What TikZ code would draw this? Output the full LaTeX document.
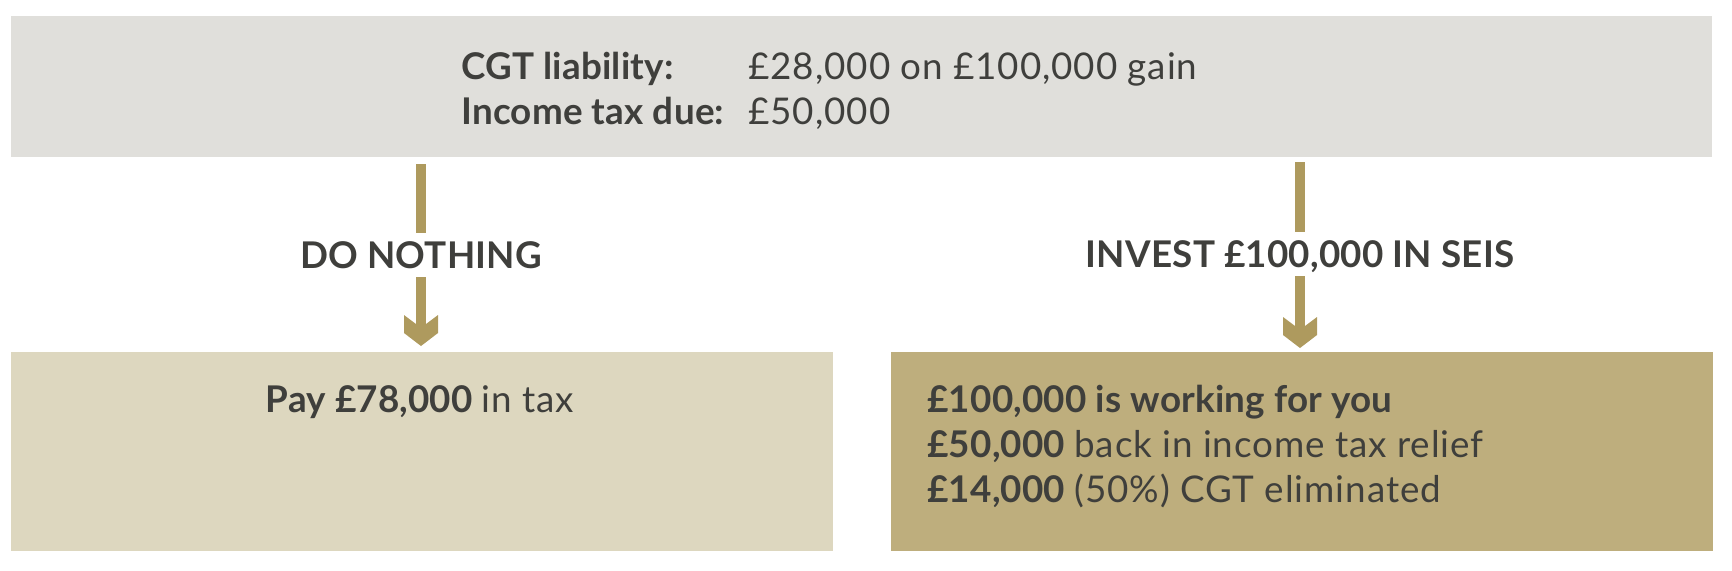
\documentclass[tikz,border=0pt]{standalone}
\usepackage{fontspec}
\setmainfont{Lato}[LetterSpace=2.5, BoldFeatures={LetterSpace=0.5}]
\usetikzlibrary{positioning}
\definecolor{greybox}{HTML}{E0DFDB}
\definecolor{sandbox}{HTML}{DDD7BF}
\definecolor{goldbox}{HTML}{BEAE7D}
\definecolor{goldarrow}{HTML}{AE9A5E}
\definecolor{inkgrey}{HTML}{3F3F3C}
\tikzset{%
	panel/.style={rectangle, inner sep=0mm, anchor=south west, minimum height=99.5pt, minimum width=411pt},
	txt/.style={inner sep=0mm, anchor=base west, text=inkgrey, font=\fontsize{18.4}{22}\selectfont},
	choice/.style={inner sep=0mm, anchor=base, text=inkgrey, font=\fontsize{18.4}{22}\selectfont\bfseries,%
		text height=17.5pt, text depth=4.5pt},
	shaft/.style={draw=goldarrow, line width=5pt, shorten >=10.5pt}
}
\newcommand{\chevron}[1]{\fill[goldarrow] (#1) -- ++(17,13) -- ++(0,18) -- ++(-12,-9) -- ++(-10,0) -- ++(-12,9) -- ++(0,-18) -- cycle;}

\begin{document}
\begin{tikzpicture}[x=0.5pt, y=0.5pt]
	\useasboundingbox (0,0) rectangle (1732,570);

	\node[panel, fill=greybox, minimum width=850.5pt, minimum height=70.5pt] (facts) at (11,413) {};
	\node[panel, fill=sandbox] (nothing) at (11,19) {};
	\node[panel, fill=goldbox] (seis) at (891,19) {};

	\node[txt] (cgt) at (461,491) {\bfseries CGT liability:};
	\node[txt] (inc) at (461,446) {\bfseries Income tax due:};
	\node[txt] (cgtv) at (748,491) {£28,000 on £100,000 gain};
	\node[txt] (incv) at (748,446) {£50,000};

	\node[choice] (dn) at (421,302) {DO NOTHING};
	\node[choice] (inv) at (1300,303) {INVEST £100,000 IN SEIS};

	\coordinate (startL) at (421,406);
	\coordinate (tipL) at (421,224);
	\coordinate (startR) at (1300,408);
	\coordinate (tipR) at (1300,222);

	\draw[shaft, shorten >=0pt] (startL) -- (dn);
	\draw[shaft] (dn) -- (tipL);
	\chevron{tipL}
	\draw[shaft, shorten >=0pt] (startR) -- (inv);
	\draw[shaft] (inv) -- (tipR);
	\chevron{tipR}

	\node[txt, anchor=base] (pay) at (420,158) {\bfseries Pay £78,000 \mdseries in tax};
	\node[txt] (work) at (927,158) {\bfseries £100,000 is working for you};
	\node[txt] (back) at (927,113) {\bfseries £50,000 \mdseries back in income tax relief};
	\node[txt] (gone) at (927,68) {\bfseries £14,000 \mdseries (50\%) CGT eliminated};
\end{tikzpicture}
\end{document}
